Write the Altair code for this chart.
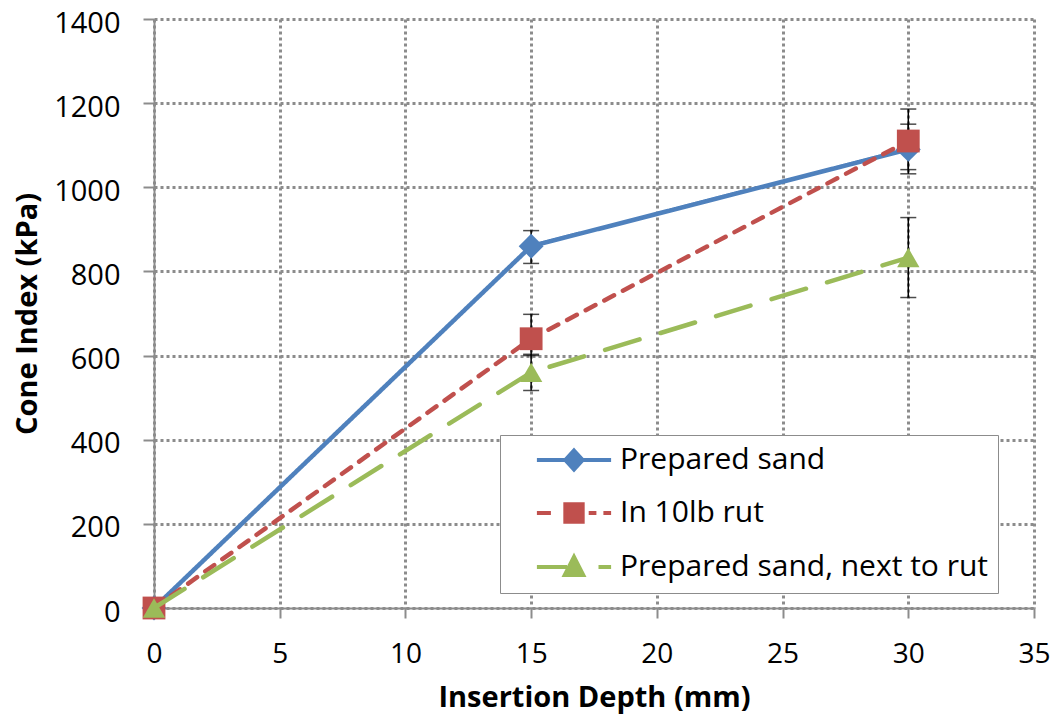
import altair as alt
import pandas as pd

# ---- data ----
depth = [0, 15, 30]
series_names = ["Prepared sand", "In 10lb rut", "Prepared sand, next to rut"]
prepared = [0, 860, 1090]
prepared_lo = [0, 819, 1042]
prepared_hi = [0, 897, 1150]
rut = [0, 640, 1110]
rut_lo = [0, 600, 1032]
rut_hi = [0, 698, 1186]
next_rut = [0, 560, 833]
next_lo = [0, 517, 738]
next_hi = [0, 603, 928]

x_ticks = [0, 5, 10, 15, 20, 25, 30, 35]
y_ticks = [0, 200, 400, 600, 800, 1000, 1200, 1400]

colors = ["#4f81bd", "#c0504d", "#9bbb59"]
dashes = [[1, 0], [11, 10], [36, 22]]
shapes = ["diamond", "square", "triangle-up"]
marker_sizes = [620, 520, 500]
legend_paths = [
    "M-2.65,0H2.65M0,-0.68L0.62,0L0,0.68L-0.62,0Z",
    "M-2.65,0H-1.65M1.05,0H1.6M2.1,0H2.65M-0.62,-0.62H0.62V0.62H-0.62Z",
    "M-2.65,0H-0.5M1.75,0H2.65M0,-0.72L0.66,0.58L-0.66,0.58Z",
]

rows = []
for name, vals, lo, hi in zip(
    series_names,
    [prepared, rut, next_rut],
    [prepared_lo, rut_lo, next_lo],
    [prepared_hi, rut_hi, next_hi],
):
    for d, v, l, h in zip(depth, vals, lo, hi):
        rows.append({"depth": d, "ci": v, "lo": l, "hi": h, "series": name})
df = pd.DataFrame(rows)

FONT = "Open Sans"

x_enc = alt.X(
    "depth:Q",
    scale=alt.Scale(domain=[0, 35], nice=False, zero=False),
    axis=alt.Axis(values=x_ticks, title="Insertion Depth (mm)"),
)


def y_enc(field):
    return alt.Y(
        f"{field}:Q",
        scale=alt.Scale(domain=[0, 1400], nice=False),
        axis=alt.Axis(values=y_ticks, title="Cone Index (kPa)", format="d"),
    )


base = alt.Chart(df)
has_err = base.transform_filter("datum.hi > datum.lo")

err_rule = has_err.mark_rule(color="black", strokeWidth=1.5).encode(
    x=x_enc, y=y_enc("lo"), y2="hi:Q"
)
cap_lo = has_err.mark_tick(orient="horizontal", size=16, thickness=1.5, color="black").encode(
    x=x_enc, y=y_enc("lo")
)
cap_hi = has_err.mark_tick(orient="horizontal", size=16, thickness=1.5, color="black").encode(
    x=x_enc, y=y_enc("hi")
)

series_layers = []
for name, col, dash, shp, sz in zip(series_names, colors, dashes, shapes, marker_sizes):
    sub = base.transform_filter(alt.datum.series == name)
    series_layers.append(
        sub.mark_line(strokeWidth=4.5, strokeCap="round", color=col, strokeDash=dash).encode(
            x=x_enc, y=y_enc("ci")
        )
    )
    series_layers.append(
        sub.mark_point(filled=True, opacity=1, strokeWidth=0, shape=shp, size=sz, color=col).encode(
            x=x_enc, y=y_enc("ci")
        )
    )

leg = alt.Legend(
    title=None,
    orient="none",
    legendX=346,
    legendY=416,
    padding=9,
    fillColor="white",
    strokeColor="#8c8c8c",
    labelFont=FONT,
    labelFontSize=30,
    labelColor="black",
    labelLimit=900,
    labelOffset=30,
    symbolOffset=49,
    symbolSize=784,
    symbolStrokeWidth=4,
    symbolOpacity=1,
    rowPadding=18,
)

# invisible marks whose only job is to carry the legend
legend_layer = base.mark_point(filled=True, opacity=0).encode(
    x=x_enc,
    y=y_enc("ci"),
    shape=alt.Shape("series:N", scale=alt.Scale(domain=series_names, range=legend_paths), legend=leg),
    fill=alt.Fill("series:N", scale=alt.Scale(domain=series_names, range=colors), legend=leg),
    stroke=alt.Stroke("series:N", scale=alt.Scale(domain=series_names, range=colors), legend=leg),
)

chart = (
    alt.layer(err_rule, cap_lo, cap_hi, *series_layers, legend_layer)
    .properties(
        width=880,
        height=589,
        autosize=alt.AutoSizeParams(type="none"),
        padding={"left": 146, "top": 11, "right": 18, "bottom": 106},
        background="white",
    )
    .configure_view(stroke=None)
    .configure_axis(
        labelFont=FONT,
        labelFontSize=28,
        labelColor="black",
        titleFont=FONT,
        titleFontSize=29,
        titleFontWeight="bold",
        titleColor="black",
        grid=True,
        gridColor="#8c8c8c",
        gridDash=[3, 3],
        gridWidth=3,
        domainColor="#8c8c8c",
        domainWidth=2,
        tickColor="#8c8c8c",
        tickWidth=2,
    )
    .configure_axisX(tickSize=10, labelPadding=22, titlePadding=15, labelFlush=False)
    .configure_axisY(
        tickSize=11, labelPadding=23, titlePadding=11, labelFontSize=29, labelOffset=4
    )
)

chart.save("out.html", embed_options={"renderer": "svg", "actions": False})
